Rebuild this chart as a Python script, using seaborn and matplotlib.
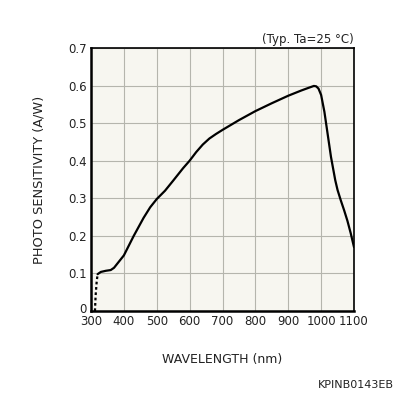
import numpy as np
import pandas as pd
import matplotlib
matplotlib.use("Agg")
import matplotlib.pyplot as plt
import matplotlib.transforms as mtransforms
import seaborn as sns

# solid curve
wl_solid = [320, 330, 345, 360, 370, 380, 400, 430, 460, 480, 500, 525, 550, 580, 600, 620, 640, 660, 680, 700,
            750, 800, 850, 900, 940, 965, 978, 985, 992, 1000, 1010, 1020, 1030, 1043, 1050, 1060, 1070, 1080,
            1090, 1100]
sens_solid = [0.098, 0.104, 0.107, 0.109, 0.115, 0.126, 0.148, 0.2, 0.248, 0.276, 0.298, 0.32, 0.347, 0.38,
              0.40, 0.423, 0.443, 0.459, 0.471, 0.482, 0.508, 0.532, 0.553, 0.573, 0.587, 0.595, 0.599, 0.598,
              0.592, 0.575, 0.53, 0.47, 0.41, 0.348, 0.322, 0.294, 0.268, 0.24, 0.207, 0.17]
# dotted start
wl_dot = [312, 314, 317, 320]
sens_dot = [0.0, 0.04, 0.075, 0.098]

x_ticks = [300, 400, 500, 600, 700, 800, 900, 1000, 1100]
y_ticks = [0, 0.1, 0.2, 0.3, 0.4, 0.5, 0.6, 0.7]
y_labels = ["0", "0.1", "0.2", "0.3", "0.4", "0.5", "0.6", "0.7"]

sns.set_style("white")
plt.rcParams['font.family'] = ['DejaVu Sans']

fig = plt.figure(figsize=(3.96, 3.96), dpi=100)
ax = fig.add_axes([91/396, 1 - 311/396, 263/396, 263/396])
ax.set_facecolor("#f7f6f0")

df_s = pd.DataFrame({"wl": wl_solid, "s": sens_solid})
df_d = pd.DataFrame({"wl": wl_dot, "s": sens_dot})
sns.lineplot(data=df_s, x="wl", y="s", ax=ax, color="black", linewidth=1.6, sort=False, zorder=3)
sns.lineplot(data=df_d, x="wl", y="s", ax=ax, color="black", linewidth=1.6, linestyle=(0, (1.2, 1.2)),
             sort=False, zorder=3)

ax.set_xlim(300, 1100)
ax.set_ylim(0, 0.7)
ax.set_xticks(x_ticks)
ax.set_yticks(y_ticks)
ax.set_yticklabels(y_labels)
ax.grid(True, color="#b5b5ad", linewidth=0.8)
ax.tick_params(axis="both", length=0, labelsize=8.5, pad=3, colors="#222222")
for sp in ax.spines.values():
    sp.set_visible(True)
    sp.set_color("black")
    sp.set_linewidth(1.2)
ax.spines["left"].set_linewidth(1.8)
ax.spines["bottom"].set_linewidth(1.8)

# nudge the y "0" label up slightly so it does not collide with "300"
fig.canvas.draw()
ylabs = ax.get_yticklabels()
ylabs[0].set_transform(ylabs[0].get_transform() + mtransforms.ScaledTranslation(0, 3/100, fig.dpi_scale_trans))

ax.set_xlabel("WAVELENGTH (nm)", fontsize=9, labelpad=18, color="#222222")
ax.set_ylabel("PHOTO SENSITIVITY (A/W)", fontsize=9.3, labelpad=16, color="#222222")

fig.text(354/396, 1 - 40/396, "(Typ. Ta=25 °C)", ha="right", va="center", fontsize=8.5, color="#222222")
fig.text(394/396, 1 - 385/396, "KPINB0143EB", ha="right", va="center", fontsize=8, color="#222222")

fig.savefig("out.png", dpi=100, facecolor="white")
